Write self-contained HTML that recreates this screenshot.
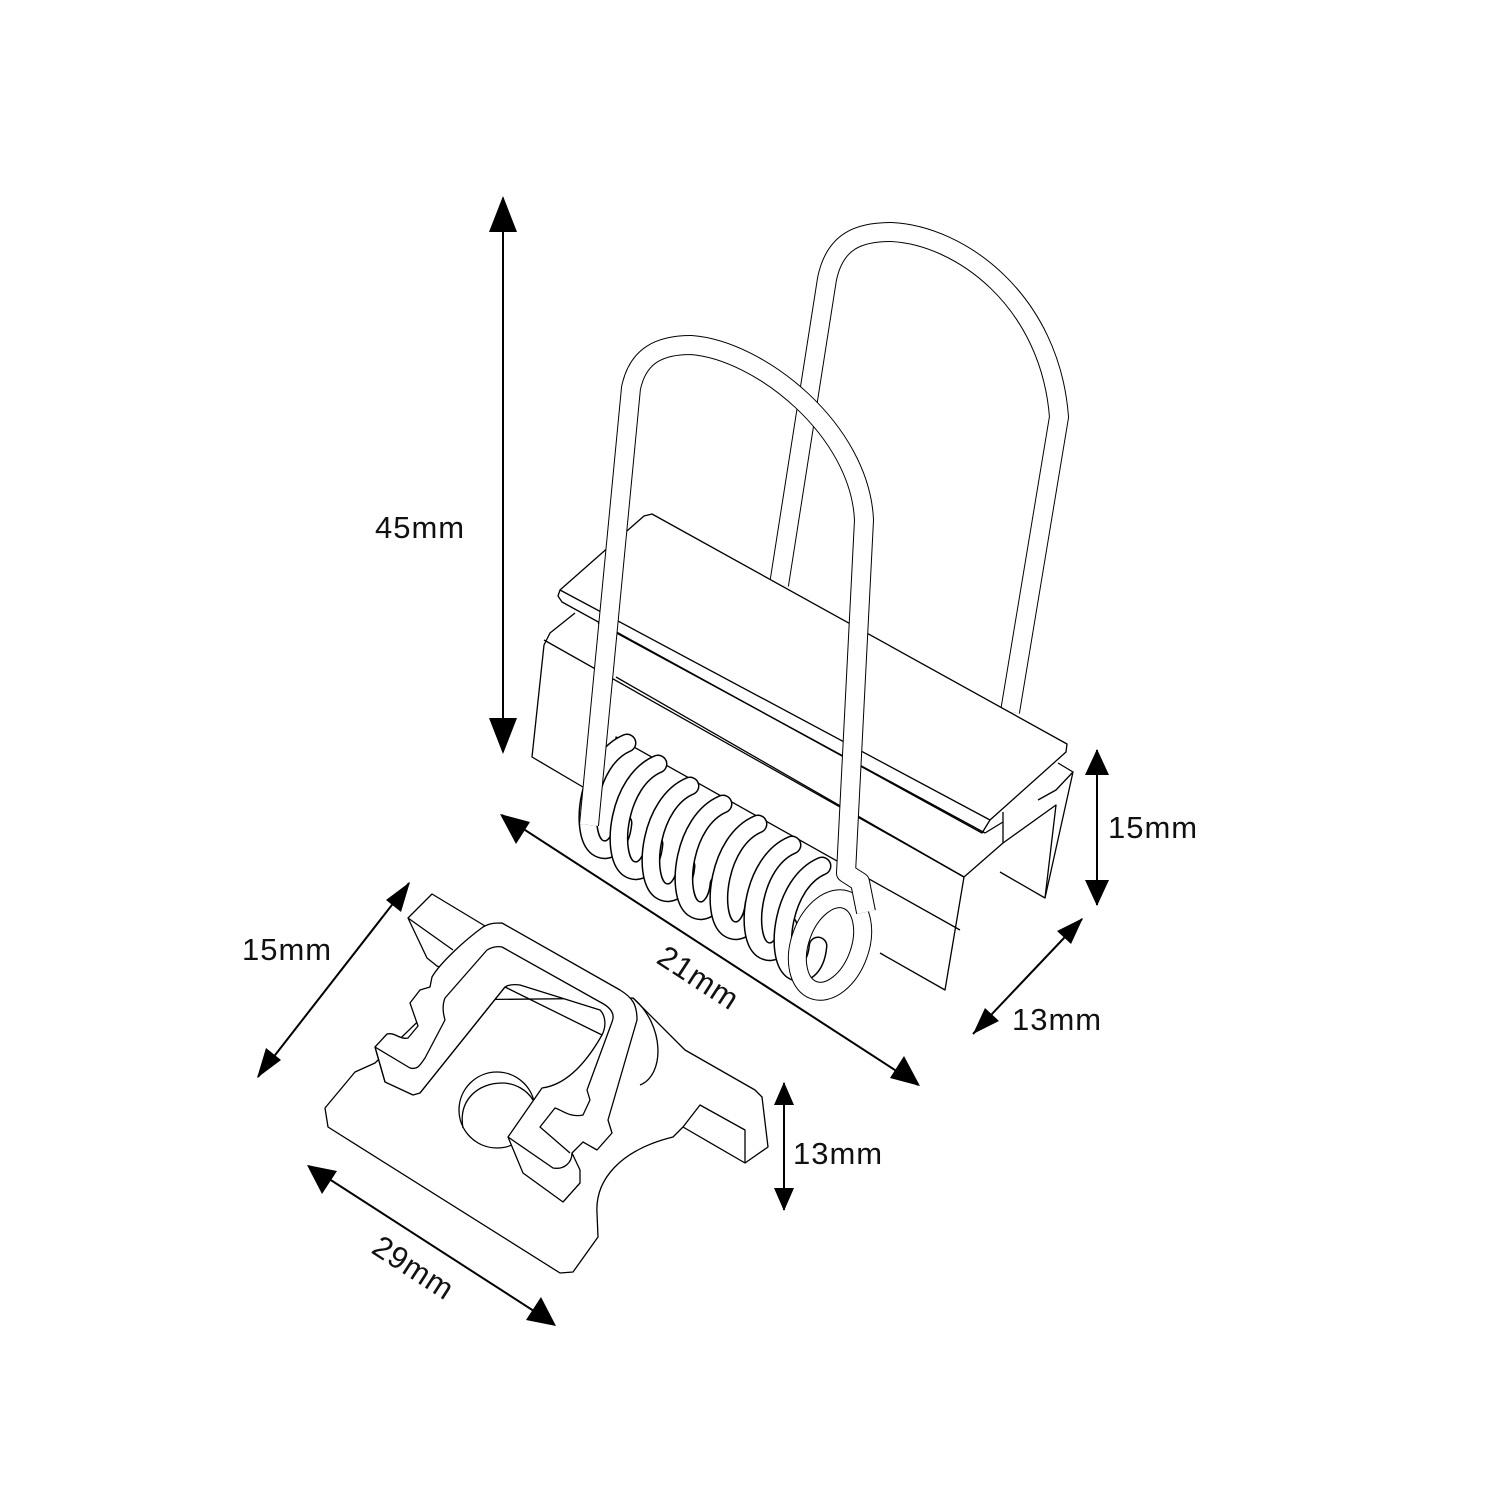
<!DOCTYPE html>
<html><head><meta charset="utf-8"><style>
html,body{margin:0;padding:0;background:#fff}
svg{display:block}
text{font-family:"Liberation Sans",sans-serif;font-size:31px;fill:#111;letter-spacing:1px}
</style></head><body>
<svg width="1501" height="1501" viewBox="0 0 1501 1501" xmlns="http://www.w3.org/2000/svg">
<defs>
<path id="cp" d="M22,-62 C-18,-45 -26,28 -8,42 C3,50 16,40 18,18"/>
</defs>
<rect width="1501" height="1501" fill="#fff"/>

<!-- rear wire loop -->
<g fill="none" stroke-linejoin="round">
<path d="M779,585 L827,279 C835,240 860,232 891,232 C960,235 1050,300 1059,417 L1010,712" stroke="#000" stroke-width="20"/>
<path d="M779,585 L827,279 C835,240 860,232 891,232 C960,235 1050,300 1059,417 L1010,712" stroke="#fff" stroke-width="18"/>
</g>

<!-- block body -->
<g stroke="#000" stroke-width="1.3" fill="#fff" stroke-linejoin="round">
<polygon stroke="none" points="544,640 575,613 1073,772 1045,898 964,877 945,990 532,757"/>
<polyline fill="none" points="575,613 550,633 544,645 532,757 588,790"/>
<polyline fill="none" points="544,640 964,877"/>
<polyline fill="none" points="964,877 945,990 880,953"/>
<polyline fill="none" points="964,877 1003,843 1003,822"/>
<polyline fill="none" points="1003,843 1056,805 1045,898 1000,872"/>
<polyline fill="none" points="1038,800 1056,790 1073,772 1045,898"/>
<polyline fill="none" points="1058,763 1073,772"/>
<polyline fill="none" points="616,677 964,877"/>
<polyline fill="none" points="616,760 616,737 960,930"/>
<polygon points="560,590 644,516 652,514 1067,744 1066,752 990,820 982,833 562,602 558,596"/>
<polyline fill="none" points="560,590 990,820"/>
<polyline fill="none" points="598,623 985,833"/>
<polyline fill="none" points="1003,812 1003,822 985,833"/>
</g>

<!-- spring coils -->
<g fill="none" stroke-linecap="round" stroke-linejoin="round">
<g transform="translate(605,805)"><use href="#cp" stroke="#000" stroke-width="19"/><use href="#cp" stroke="#fff" stroke-width="16"/></g>
<g transform="translate(636,826)"><use href="#cp" stroke="#000" stroke-width="19"/><use href="#cp" stroke="#fff" stroke-width="16"/></g>
<g transform="translate(668,848)"><use href="#cp" stroke="#000" stroke-width="19"/><use href="#cp" stroke="#fff" stroke-width="16"/></g>
<g transform="translate(701,866)"><use href="#cp" stroke="#000" stroke-width="19"/><use href="#cp" stroke="#fff" stroke-width="16"/></g>
<g transform="translate(736,886)"><use href="#cp" stroke="#000" stroke-width="19"/><use href="#cp" stroke="#fff" stroke-width="16"/></g>
<g transform="translate(770,907)"><use href="#cp" stroke="#000" stroke-width="19"/><use href="#cp" stroke="#fff" stroke-width="16"/></g>
<g transform="translate(800,928)"><use href="#cp" stroke="#000" stroke-width="19"/><use href="#cp" stroke="#fff" stroke-width="16"/></g>
</g>
<g fill="none">
<ellipse cx="830" cy="945" rx="30" ry="48" transform="rotate(20 830 945)" stroke="#000" stroke-width="19"/>
<ellipse cx="830" cy="945" rx="30" ry="48" transform="rotate(20 830 945)" stroke="#fff" stroke-width="17"/>
</g>

<!-- front wire loop -->
<g fill="none" stroke-linejoin="round">
<path d="M589,825 L631,388 C638,355 660,345 691,345 C760,350 860,430 864,520 L846,873 L860,882 L866,912" stroke="#000" stroke-width="20"/>
<path d="M589,825 L631,388 C638,355 660,345 691,345 C760,350 860,430 864,520 L846,873 L860,882 L866,912" stroke="#fff" stroke-width="18"/>
</g>

<!-- bottom part -->
<g stroke="#000" stroke-width="1.3" fill="#fff" stroke-linejoin="round">
<polygon points="408,918 432,894 500,935 470,980 437,966 427,958"/>
<polyline fill="none" points="408,918 453,950"/>
<path d="M375,1063 L440,1000 633,998 685,1050 755,1090 762,1097 768,1147 745,1163 683,1127 673,1137 C620,1150 595,1180 597,1213 L598,1237 573,1272 560,1273 328,1127 325,1108 355,1072 Z"/>
<polyline fill="none" points="683,1127 700,1105 745,1130 745,1163"/>
<path fill="none" d="M633,998 C665,1025 665,1075 640,1085"/>
<circle cx="497" cy="1110" r="38"/>
<path fill="none" d="M463,1128 C458,1100 478,1083 502,1083 C515,1083 527,1090 533,1100"/>
<path d="M375,1047 L387,1034 C395,1032 400,1040 408,1038 L418,1026 410,1003 420,990 430,987 432,977 C440,963 465,940 483,927 C490,923 495,923 502,923 L620,990 C633,998 637,1005 637,1020 L608,1120 612,1133 597,1150 583,1142 572,1153 580,1170 580,1183 563,1202 523,1173 508,1137 L542,1088 C565,1085 585,1065 602,1035 C607,1025 605,1015 600,1010 L520,985 C512,984 508,985 505,987 L420,1093 413,1095 385,1082 Z"/>
<path fill="none" d="M375,1047 L410,1068 C418,1070 420,1065 425,1058 L445,1020 C442,1010 443,1003 445,998 L487,950 C492,947 497,946 502,947 L600,1002 C612,1008 615,1015 612,1022 L587,1090 590,1100 583,1115 C570,1118 562,1110 555,1108 L540,1127 570,1153"/>
<path fill="none" d="M508,1137 L553,1168 C565,1170 572,1162 572,1153 M563,1202 L580,1183 M505,987 L420,1093 M385,1082 L375,1047 M602,1035 L505,987"/>
</g>

<!-- dimension arrows -->
<g stroke="#000" stroke-width="2" fill="none">
<line x1="503" y1="198" x2="503" y2="752"/>
<line x1="1097" y1="750" x2="1097" y2="905"/>
<line x1="973" y1="1034" x2="1082" y2="919"/>
<line x1="502" y1="815" x2="918" y2="1085"/>
<line x1="258" y1="1077" x2="409" y2="883"/>
<line x1="784" y1="1083" x2="784" y2="1210"/>
<line x1="309" y1="1166" x2="554" y2="1324"/>
</g>
<g fill="#000">
<polygon points="503,196 489,232 517,232"/>
<polygon points="503,754 489,718 517,718"/>
<polygon points="1097,749 1085,775 1109,775"/>
<polygon points="1097,906 1085,880 1109,880"/>
<polygon points="973,1034 985,1008 999,1021"/>
<polygon points="1083,918 1071,944 1057,931"/>
<polygon points="500,814 530,822 516,844"/>
<polygon points="920,1086 890,1078 904,1056"/>
<polygon points="257,1078 266,1048 281,1060"/>
<polygon points="410,882 401,912 386,900"/>
<polygon points="784,1082 774,1105 794,1105"/>
<polygon points="784,1211 774,1188 794,1188"/>
<polygon points="307,1165 337,1171 322,1194"/>
<polygon points="556,1326 526,1320 541,1297"/>
</g>

<text x="375" y="538">45mm</text>
<text x="1108" y="838">15mm</text>
<text x="1012" y="1030">13mm</text>
<text x="242" y="960">15mm</text>
<text x="793" y="1164">13mm</text>
<text x="655" y="962" transform="rotate(33 655 962)">21mm</text>
<text x="370" y="1252" transform="rotate(33 370 1252)">29mm</text>
</svg>
</body></html>
